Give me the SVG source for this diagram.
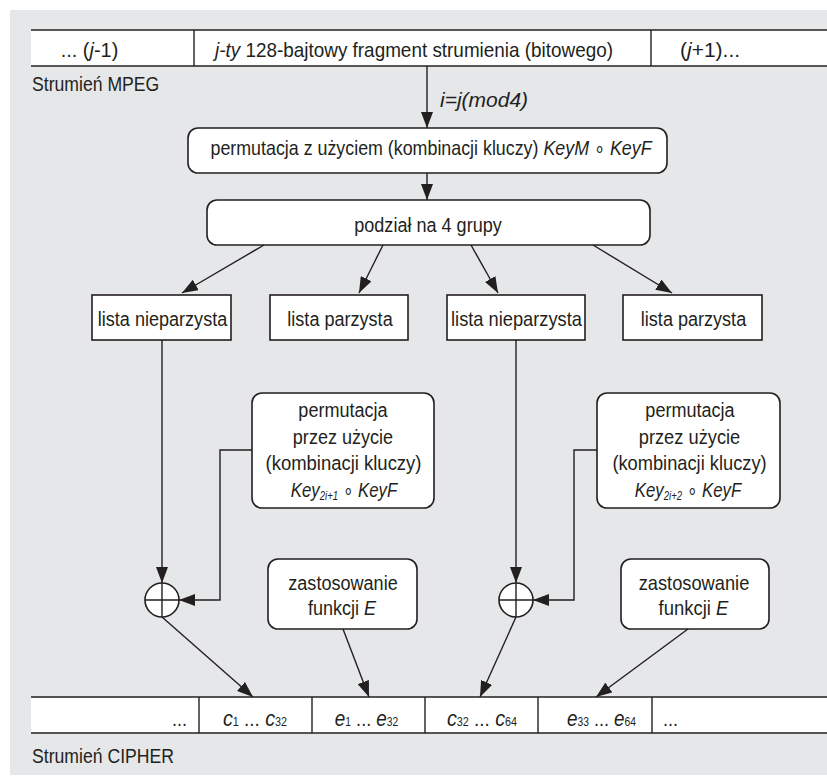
<svg xmlns="http://www.w3.org/2000/svg" width="827" height="779" viewBox="0 0 827 779">
<defs>
<marker id="ah" viewBox="0 0 16 12" refX="16" refY="6" markerWidth="16" markerHeight="12" markerUnits="userSpaceOnUse" orient="auto">
<path d="M0,0 L16,6 L0,12 z" fill="#231f20"/>
</marker>
<style>
text{font-family:"Liberation Sans",Arial,sans-serif;font-size:21px;fill:#231f20}
.c{text-anchor:middle}
.e{text-anchor:end}
.i{font-style:italic}
.s{font-size:12px}
.d{font-size:12px}
.l{font-size:22px}
.box{fill:#fff;stroke:#231f20;stroke-width:1.6}
.ln{fill:none;stroke:#231f20;stroke-width:1.4}
.ar{fill:none;stroke:#231f20;stroke-width:1.4;marker-end:url(#ah)}
</style>
</defs>
<rect x="0" y="0" width="827" height="779" fill="#fff"/>
<rect x="10" y="10" width="817" height="765" fill="#e6e7e9"/>

<g id="mpeg-stream">
<rect x="31" y="30" width="796" height="36" fill="#fff"/>
<line class="ln" x1="31" y1="30" x2="827" y2="30"/>
<line class="ln" x1="31" y1="66" x2="827" y2="66"/>
<line class="ln" x1="194" y1="30" x2="194" y2="66"/>
<line class="ln" x1="651" y1="30" x2="651" y2="66"/>
<text class="c" transform="translate(89.5,57) scale(0.95,1)">... (<tspan class="i">j</tspan>-1)</text>
<text class="c" transform="translate(414,57) scale(0.9,1)"><tspan class="i">j-ty</tspan> 128-bajtowy fragment strumienia (bitowego)</text>
<text transform="translate(680,57) scale(1.0,1)">(<tspan class="i">j</tspan>+1)...</text>
<text transform="translate(32,91) scale(0.84,1)">Strumień MPEG</text>
</g>

<g id="perm-main">
<rect class="box" x="188" y="128" width="479" height="45" rx="10"/>
<text class="c" transform="translate(431,155) scale(0.85,1)">permutacja z użyciem (kombinacji kluczy) <tspan class="i">KeyM</tspan> ∘ <tspan class="i">KeyF</tspan></text>
</g>

<g id="split">
<rect class="box" x="207" y="200" width="443" height="45" rx="10"/>
<text class="c" transform="translate(428,232) scale(0.86,1)">podział na 4 grupy</text>
</g>

<g id="list1">
<rect class="box" x="92" y="295" width="139" height="45"/>
<text class="c" transform="translate(162.5,326) scale(0.86,1)">lista nieparzysta</text>
</g>
<g id="list2">
<rect class="box" x="270" y="295" width="138" height="45"/>
<text class="c" transform="translate(340,326) scale(0.86,1)">lista parzysta</text>
</g>
<g id="list3">
<rect class="box" x="447" y="295" width="138" height="45"/>
<text class="c" transform="translate(516.5,326) scale(0.87,1)">lista nieparzysta</text>
</g>
<g id="list4">
<rect class="box" x="623" y="295" width="139" height="45"/>
<text class="c" transform="translate(693.5,326) scale(0.86,1)">lista parzysta</text>
</g>

<g id="perm1">
<rect class="box" x="252" y="393" width="182" height="115" rx="10"/>
<text class="c" transform="translate(343,417) scale(0.86,1)">permutacja</text>
<text class="c" transform="translate(343,444) scale(0.86,1)">przez użycie</text>
<text class="c" transform="translate(343.5,470) scale(0.88,1)">(kombinacji kluczy)</text>
<text class="c" transform="translate(344,497) scale(0.8,1)"><tspan class="i">Key</tspan><tspan class="i s" dy="3">2i+1</tspan><tspan dy="-3"> ∘ </tspan><tspan class="i">KeyF</tspan></text>
</g>
<g id="perm2">
<rect class="box" x="597" y="393" width="183" height="115" rx="10"/>
<text class="c" transform="translate(690,417) scale(0.86,1)">permutacja</text>
<text class="c" transform="translate(689.5,444) scale(0.87,1)">przez użycie</text>
<text class="c" transform="translate(689.5,470) scale(0.87,1)">(kombinacji kluczy)</text>
<text class="c" transform="translate(688,497) scale(0.8,1)"><tspan class="i">Key</tspan><tspan class="i s" dy="3">2i+2</tspan><tspan dy="-3"> ∘ </tspan><tspan class="i">KeyF</tspan></text>
</g>

<g id="xor1">
<circle cx="162" cy="600" r="17" fill="#fff" stroke="#231f20" stroke-width="1.6"/>
<line class="ln" x1="145" y1="600" x2="179" y2="600"/>
<line class="ln" x1="162" y1="583" x2="162" y2="617"/>
</g>
<g id="xor2">
<circle cx="516" cy="600" r="17" fill="#fff" stroke="#231f20" stroke-width="1.6"/>
<line class="ln" x1="499" y1="600" x2="533" y2="600"/>
<line class="ln" x1="516" y1="583" x2="516" y2="617"/>
</g>

<g id="func1">
<rect class="box" x="268" y="559" width="149" height="70" rx="10"/>
<text class="c" transform="translate(343,590) scale(0.86,1)">zastosowanie</text>
<text class="c" transform="translate(342,615) scale(0.86,1)">funkcji <tspan class="i">E</tspan></text>
</g>
<g id="func2">
<rect class="box" x="621" y="559" width="148" height="70" rx="10"/>
<text class="c" transform="translate(694,590) scale(0.87,1)">zastosowanie</text>
<text class="c" transform="translate(693.5,615) scale(0.88,1)">funkcji <tspan class="i">E</tspan></text>
</g>

<g id="cipher-stream">
<rect x="31" y="697" width="796" height="36" fill="#fff"/>
<line class="ln" x1="31" y1="697" x2="827" y2="697"/>
<line class="ln" x1="31" y1="733" x2="827" y2="733"/>
<line class="ln" x1="199" y1="697" x2="199" y2="733"/>
<line class="ln" x1="312" y1="697" x2="312" y2="733"/>
<line class="ln" x1="425" y1="697" x2="425" y2="733"/>
<line class="ln" x1="538" y1="697" x2="538" y2="733"/>
<line class="ln" x1="652" y1="697" x2="652" y2="733"/>
<text class="e" transform="translate(187,726) scale(0.86,1)">...</text>
<text class="c" transform="translate(255,726) scale(0.9,1)"><tspan class="i l">c</tspan><tspan class="d">1</tspan> ... <tspan class="i l">c</tspan><tspan class="d">32</tspan></text>
<text class="c" transform="translate(366.5,726) scale(0.86,1)"><tspan class="i l">e</tspan><tspan class="d">1</tspan> ... <tspan class="i l">e</tspan><tspan class="d">32</tspan></text>
<text class="c" transform="translate(482,726) scale(0.9,1)"><tspan class="i l">c</tspan><tspan class="d">32</tspan> ... <tspan class="i l">c</tspan><tspan class="d">64</tspan></text>
<text class="c" transform="translate(601.5,726) scale(0.86,1)"><tspan class="i l">e</tspan><tspan class="d">33</tspan> ... <tspan class="i l">e</tspan><tspan class="d">64</tspan></text>
<text transform="translate(663,726) scale(0.86,1)">...</text>
<text transform="translate(32,763) scale(0.84,1)">Strumień CIPHER</text>
</g>

<g id="connectors">
<line class="ar" x1="427" y1="66" x2="427" y2="128"/>
<text class="i" transform="translate(440,107) scale(1.0,1)">i=j(mod4)</text>
<line class="ar" x1="427" y1="173" x2="427" y2="200"/>
<line class="ar" x1="264" y1="245" x2="182" y2="293"/>
<line class="ar" x1="383" y1="245" x2="359" y2="293"/>
<line class="ar" x1="471" y1="245" x2="498" y2="293"/>
<line class="ar" x1="593" y1="245" x2="672" y2="293"/>
<line class="ar" x1="162" y1="340" x2="162" y2="583"/>
<line class="ar" x1="516" y1="340" x2="516" y2="583"/>
<polyline class="ar" points="252,450 220,450 220,600 179,600"/>
<polyline class="ar" points="597,450 574,450 574,600 533,600"/>
<line class="ar" x1="162" y1="617" x2="253" y2="697"/>
<line class="ar" x1="343" y1="629" x2="369" y2="697"/>
<line class="ar" x1="516" y1="617" x2="480" y2="697"/>
<line class="ar" x1="688" y1="629" x2="596" y2="697"/>
</g>
</svg>
